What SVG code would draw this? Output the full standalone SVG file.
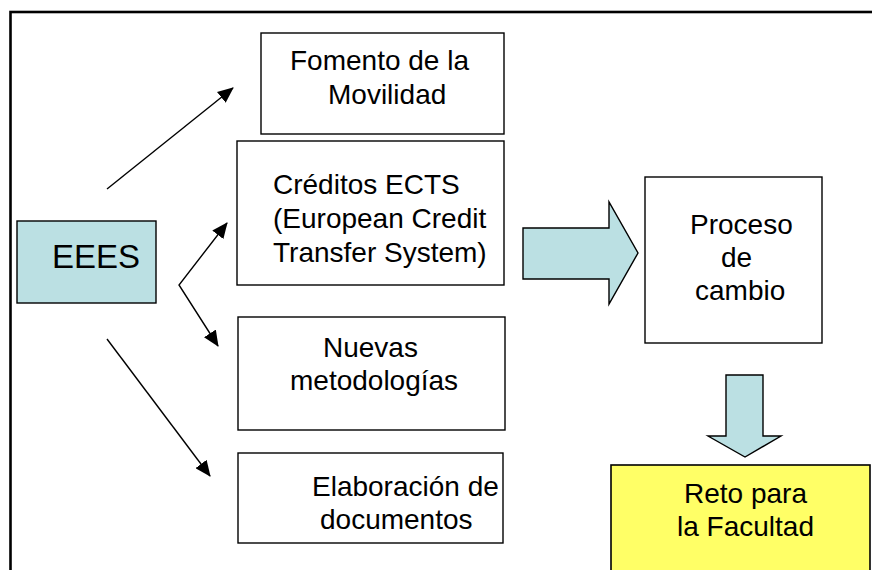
<svg xmlns="http://www.w3.org/2000/svg" width="872" height="570" viewBox="0 0 872 570">
<defs>
<style>
.box{fill:#ffffff;stroke:#000000;stroke-width:1.4}
.blue{fill:#bbe0e3;stroke:#000000;stroke-width:1.4}
.yellow{fill:#ffff66;stroke:#000000;stroke-width:1.6}
.t{font-family:"Liberation Sans",Arial,sans-serif;font-size:28px;fill:#000000}
.conn{fill:none;stroke:#000000;stroke-width:1.4}
</style>
<marker id="ah" viewBox="0 0 16 14" refX="15" refY="7" markerWidth="16" markerHeight="14" markerUnits="userSpaceOnUse" orient="auto-start-reverse">
<path d="M0,0 L16,7 L0,14 Z" fill="#000000"/>
</marker>
</defs>
<rect x="0" y="0" width="872" height="570" fill="#ffffff"/>
<rect x="10.5" y="12" width="900" height="600" fill="none" stroke="#000000" stroke-width="2.6"/>

<g id="connectors">
<line class="conn" x1="107" y1="189" x2="233" y2="88" marker-end="url(#ah)"/>
<polyline class="conn" points="227,223 179,285 218,346" marker-start="url(#ah)" marker-end="url(#ah)"/>
<line class="conn" x1="107" y1="339" x2="210" y2="476" marker-end="url(#ah)"/>
<polygon id="block-arrow-right" class="blue" points="523,228 609,228 609,202 638,253 609,304 609,279 523,279"/>
<polygon id="block-arrow-down" class="blue" points="726,375 763,375 763,436 781,436 745,457 708,436 726,436"/>
</g>

<g id="node-eees">
<rect class="blue" x="17" y="221" width="139" height="82"/>
<text class="t" x="52" y="268" style="font-size:33px">EEES</text>
</g>

<g id="node-fomento">
<rect class="box" x="261" y="33" width="243" height="101"/>
<text class="t" x="290" y="70">Fomento de la</text>
<text class="t" x="328" y="104">Movilidad</text>
</g>

<g id="node-creditos">
<rect class="box" x="237" y="141" width="267" height="144"/>
<text class="t" x="273" y="194">Créditos ECTS</text>
<text class="t" x="273" y="228">(European Credit</text>
<text class="t" x="273" y="262">Transfer System)</text>
</g>

<g id="node-nuevas">
<rect class="box" x="238" y="317" width="267" height="113"/>
<text class="t" x="323" y="357">Nuevas</text>
<text class="t" x="290" y="390">metodologías</text>
</g>

<g id="node-elaboracion">
<rect class="box" x="238" y="453" width="265" height="90"/>
<text class="t" x="312" y="496">Elaboración de</text>
<text class="t" x="320" y="529">documentos</text>
</g>

<g id="node-proceso">
<rect class="box" x="645" y="177" width="177" height="166"/>
<text class="t" x="690" y="234">Proceso</text>
<text class="t" x="721" y="267">de</text>
<text class="t" x="695" y="300">cambio</text>
</g>

<g id="node-reto">
<rect class="yellow" x="611" y="465" width="259" height="130"/>
<text class="t" x="684" y="503">Reto para</text>
<text class="t" x="677" y="536">la Facultad</text>
</g>
</svg>
